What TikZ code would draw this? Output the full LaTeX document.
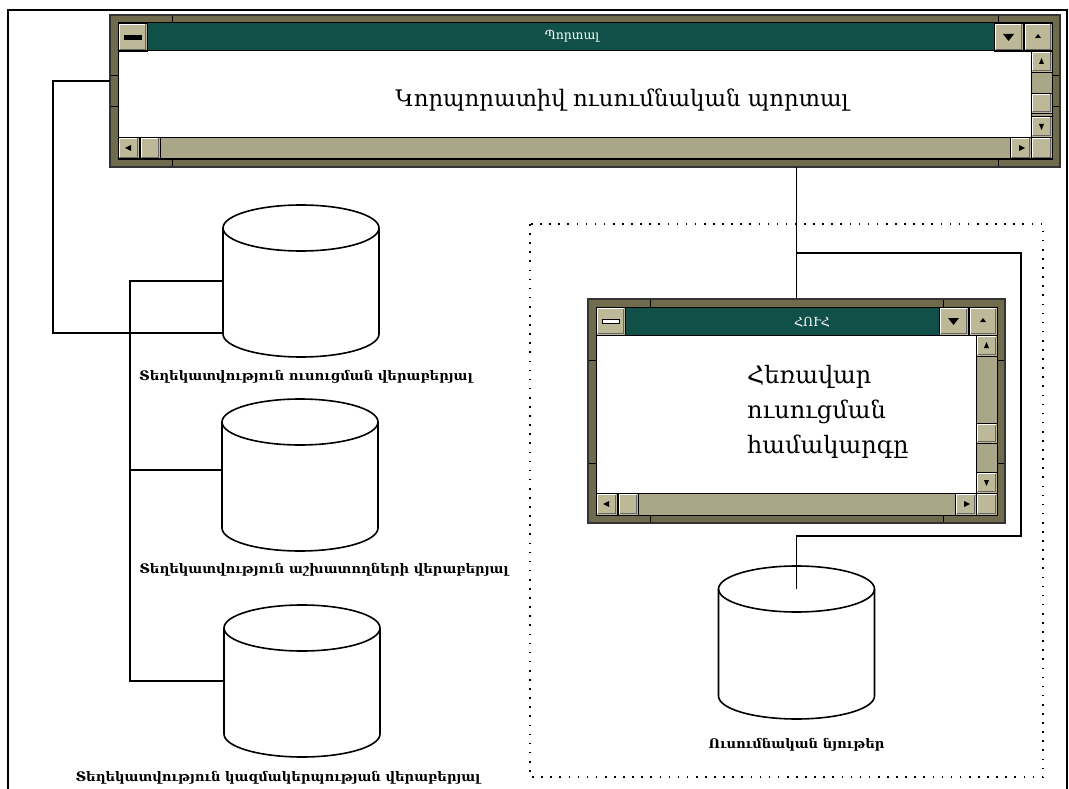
\documentclass[tikz,border=0pt]{standalone}
\usepackage{fontspec}
\setmainfont{DejaVu Serif}
\usetikzlibrary{positioning}

\definecolor{winframe}{RGB}{112,107,76}
\definecolor{winface}{RGB}{188,184,152}
\definecolor{wintrack}{RGB}{170,166,136}
\definecolor{titleteal}{RGB}{16,80,72}

\newcommand\winbtn[4]{%
  \fill[winface] (#1,#2) rectangle (#3,#4);
  \draw[white, line width=1.5pt] ({#1+1.5},{#4-1.5}) -- ({#1+1.5},{#2+1.5}) -- ({#3-1.5},{#2+1.5});
  \draw[black!60, line width=1.5pt] ({#1+1.5},{#4-1.5}) -- ({#3-1.5},{#4-1.5}) -- ({#3-1.5},{#2+1.5});
  \draw[line width=0.8pt] (#1,#2) rectangle (#3,#4);}

\newcommand\winbox[7]{%
  \pgfmathsetmacro\winL{#2+8}\pgfmathsetmacro\winT{#3+8}%
  \pgfmathsetmacro\winR{#4-8}\pgfmathsetmacro\winB{#5-8}%
  \node[winnode, minimum width={#4-#2}, minimum height={#5-#3}] (#1) at ({(#2+#4)/2},{(#3+#5)/2}) {};
  \fill[winframe] (#2,#3) rectangle (#4,#5);
  \draw[line width=1pt] ({#2+62},#3) -- ({#2+62},\winT) ({#4-62},#3) -- ({#4-62},\winT)
    ({#2+62},#5) -- ({#2+62},\winB) ({#4-62},#5) -- ({#4-62},\winB)
    (#2,{#3+61}) -- (\winL,{#3+61}) (#2,{#5-60}) -- (\winL,{#5-60})
    (#4,{#3+61}) -- (\winR,{#3+61}) (#4,{#5-60}) -- (\winR,{#5-60});
  \draw[black!80, line width=1.2pt] (#2,#3) rectangle (#4,#5);
  \fill[titleteal] ({\winL+29},\winT) rectangle ({\winR-58},{\winT+28});
  \fill[white] (\winL,{\winT+28}) rectangle ({\winR-21},{\winB-22});
  \fill[wintrack] ({\winR-21},{\winT+28}) rectangle (\winR,{\winB-22});
  \fill[wintrack] (\winL,{\winB-22}) rectangle ({\winR-21},\winB);
  \draw[line width=0.8pt] ({\winR-21},{\winT+28}) rectangle (\winR,{\winB-22})
    (\winL,{\winB-22}) rectangle ({\winR-21},\winB);
  \winbtn{\winL}{\winT}{\winL+29}{\winT+28}
  \fill[#7, draw=black, line width=0.6pt] ({\winL+6},{\winT+12}) rectangle ({\winL+23},{\winT+16});
  \winbtn{\winR-58}{\winT}{\winR-29}{\winT+28}
  \fill ({\winR-49},{\winT+11}) -- ({\winR-38},{\winT+11}) -- ({\winR-43.5},{\winT+18}) -- cycle;
  \winbtn{\winR-28}{\winT}{\winR}{\winT+28}
  \fill ({\winR-17},{\winT+15}) -- ({\winR-11},{\winT+15}) -- ({\winR-14},{\winT+11}) -- cycle;
  \winbtn{\winR-21}{\winT+28}{\winR}{\winT+49}
  \fill ({\winR-13},{\winT+41}) -- ({\winR-8},{\winT+41}) -- ({\winR-10.5},{\winT+35}) -- cycle;
  \winbtn{\winR-21}{#6}{\winR}{#6+20}
  \winbtn{\winR-21}{\winB-43}{\winR}{\winB-22}
  \fill ({\winR-13},{\winB-35}) -- ({\winR-8},{\winB-35}) -- ({\winR-10.5},{\winB-29}) -- cycle;
  \winbtn{\winL}{\winB-22}{\winL+21}{\winB}
  \fill ({\winL+7},{\winB-11}) -- ({\winL+13},{\winB-14}) -- ({\winL+13},{\winB-8}) -- cycle;
  \winbtn{\winL+22}{\winB-22}{\winL+42}{\winB}
  \winbtn{\winR-42}{\winB-22}{\winR-21}{\winB}
  \fill ({\winR-27},{\winB-11}) -- ({\winR-33},{\winB-14}) -- ({\winR-33},{\winB-8}) -- cycle;
  \winbtn{\winR-21}{\winB-22}{\winR}{\winB}
  \draw[line width=1pt] (\winL,\winT) rectangle (\winR,\winB)
    (\winL,{\winT+28}) -- (\winR,{\winT+28});}

\newcommand\dbase[4]{%
  \node[dbnode, minimum width=156pt, minimum height={#4-#3}] (#1) at (#2,{(#3+#4)/2}) {};
  \draw[dbline] ({#2-78},{#3+23}) -- ({#2-78},{#4-23})
    arc[start angle=180, end angle=0, x radius=78, y radius=23] -- ({#2+78},{#3+23});
  \draw[dbline] (#2,{#3+23}) ellipse [x radius=78, y radius=23];}

\begin{document}
\begin{tikzpicture}[x=1pt, y=-1pt,
    conn/.style={line width=1.7pt},
    dbline/.style={line width=1.6pt},
    dbnode/.style={inner sep=0pt, outer sep=0pt},
    winnode/.style={inner sep=0pt, outer sep=0pt},
    dblabel/.style={font=\fontsize{13.2}{15}\selectfont\bfseries, inner sep=0pt},
    wintext/.style={font=\fontsize{24}{35}\selectfont, inner sep=0pt},
    wintitle/.style={font=\fontsize{12.5}{14}\selectfont, text=white, inner sep=0pt},
    dotbox/.style={line width=1.6pt, dash pattern=on 1.6pt off 7.5pt}]
\useasboundingbox (0,0) rectangle (1069,789);
\draw[line width=1.2pt] (8,789) -- (8,10) -- (1067,10) -- (1067,789);
\draw[dotbox] (530,224) rectangle (1043,777);

\winbox{portal}{110}{15}{1060}{167}{93}{black}
\node[wintitle] (portaltitle) at (572,36) {Պորտալ};
\node[wintext, font=\fontsize{22.8}{30}\selectfont] (portaltext) at (622,100) {Կորպորատիվ ուսումնական պորտալ};

\winbox{huh}{588}{299}{1005}{523}{423}{white}
\node[wintitle] (huhtitle) at (812,322) {ՀՈՒՀ};
\node[wintext, align=left, anchor=west] (huhtext) at (747,412) {Հեռավար\\ուսուցման\\համակարգը};

\dbase{db1}{301}{205}{357}
\dbase{db2}{300}{399}{551}
\dbase{db3}{302}{605}{757}
\dbase{db4}{796.5}{566}{719}

\node[dblabel, below=13pt of db1, xshift=5pt] (lbl1) {Տեղեկատվություն ուսուցման վերաբերյալ};
\node[dblabel, below=12pt of db2, xshift=24pt] (lbl2) {Տեղեկատվություն աշխատողների վերաբերյալ};
\node[dblabel, below=14pt of db3, xshift=-24pt] (lbl3) {Տեղեկատվություն կազմակերպության վերաբերյալ};
\node[dblabel, below=19pt of db4] (lbl4) {Ուսումնական նյութեր};

\coordinate (lft) at (53,0);
\coordinate (bus) at (130,0);
\coordinate (tap) at (796.5,253);
\coordinate (rgt) at (1021,536);
\draw[conn] ([yshift=10pt]portal.west) -| ([yshift=-52pt]db1.west -| lft) -- ([yshift=-52pt]db1.west);
\draw[conn] (db1.west) -- (db1.west -| bus) -- (db3.west -| bus) -- (db3.west);
\draw[conn] ([yshift=5pt]db2.west -| bus) -- ([yshift=5pt]db2.west);
\draw[conn] (portal.south -| huh.north) -- (huh.north);
\draw[conn] (tap) -| (rgt) -| ([yshift=-23pt]db4.north);
\end{tikzpicture}
\end{document}
